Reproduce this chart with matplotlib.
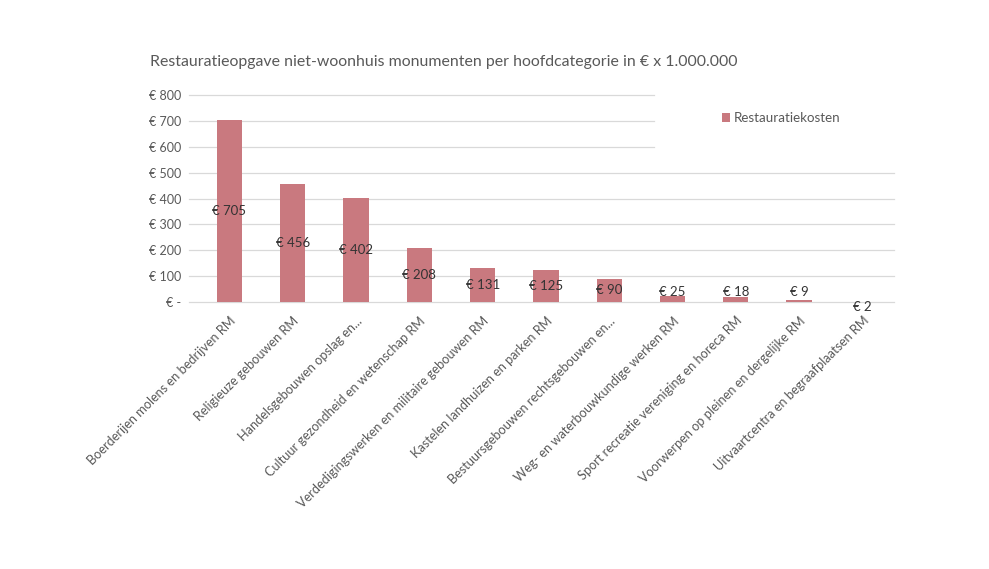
import numpy as np
import matplotlib.pyplot as plt

# Categorieen en kosten (x 1.000.000 euro)
categorieen = [
    "Boerderijen molens en bedrijven RM",
    "Religieuze gebouwen RM",
    "Handelsgebouwen opslag en...",
    "Cultuur gezondheid en wetenschap RM",
    "Verdedigingswerken en militaire gebouwen RM",
    "Kastelen landhuizen en parken RM",
    "Bestuursgebouwen rechtsgebouwen en...",
    "Weg- en waterbouwkundige werken RM",
    "Sport recreatie vereniging en horeca RM",
    "Voorwerpen op pleinen en dergelijke RM",
    "Uitvaartcentra en begraafplaatsen RM",
]
kosten = [705, 456, 402, 208, 131, 125, 90, 25, 18, 9, 2]
y_ticks = [0, 100, 200, 300, 400, 500, 600, 700, 800]
y_labels = ["€ -"] + [f"€ {v}" for v in y_ticks[1:]]

plt.rcParams['font.family'] = ['Lato', 'DejaVu Sans']

fig = plt.figure(figsize=(9.89, 5.69), dpi=100)
ax = fig.add_axes([0.200, 0.469, 0.704, 0.364])

x = np.arange(len(categorieen))
ax.bar(x, kosten, width=0.4, color='#c9797f', label='Restauratiekosten', zorder=2)

# data labels (Excel-achtig: midden in de balk, kleine waarden iets hoger)
for xi, v in zip(x, kosten):
    if v < 5:
        yl = -20
    else:
        yl = max(v / 2, 38)
    ax.text(xi, yl, f"€ {v}", ha='center', va='center', fontsize=9.5,
            color='#333333', zorder=3)

ax.set_xlim(-0.5, len(categorieen) - 0.5)
ax.set_ylim(0, 800)
ax.set_yticks(y_ticks)
ax.set_yticklabels(y_labels, fontsize=9, color='#595959')
ax.set_xticks(x)
ax.set_xticklabels(categorieen, rotation=45, ha='right', rotation_mode='anchor',
                   fontsize=9.2, color='#595959')
ax.tick_params(axis='y', length=0, pad=12)
ax.tick_params(axis='x', length=0, pad=9)

# rasterlijnen: bovenste drie stoppen voor de legenda
for v in y_ticks:
    xmax = 0.655 if v >= 600 else 1.0
    ax.axhline(v, xmin=-0.012, xmax=xmax, color='#d9d9d9', linewidth=0.9,
               zorder=1, clip_on=False)

for s in ax.spines.values():
    s.set_visible(False)

fig.text(0.152, 0.884, "Restauratieopgave niet-woonhuis monumenten per hoofdcategorie in € x 1.000.000",
         fontsize=11.4, color='#595959')

ax.legend(loc='upper left', bbox_to_anchor=(0.735, 0.975), frameon=False, fontsize=9.6,
          handlelength=0.6, handleheight=0.6, handletextpad=0.3, labelcolor='#595959')

fig.savefig('out.png', dpi=100)
